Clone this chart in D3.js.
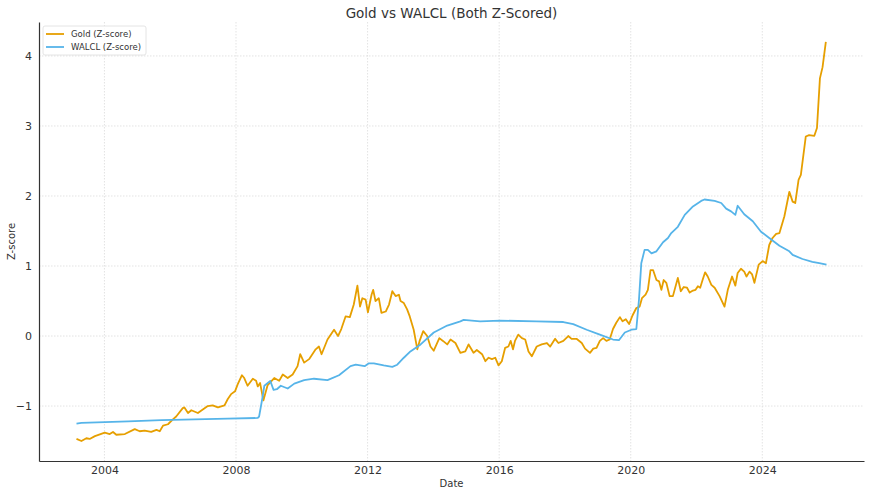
<!DOCTYPE html>
<html>
<head>
<meta charset="utf-8">
<script src="https://cdn.jsdelivr.net/npm/d3@7"></script>
<style>
  body { margin: 0; background: #fff; }
  svg { font-family: "DejaVu Sans", sans-serif; }
</style>
</head>
<body>
<svg id="canvas"></svg>
<script>
// decimal years (monthly-ish samples)
const goldYears = [2003.15, 2003.30, 2003.45, 2003.55, 2003.71, 2004.01, 2004.16, 2004.26, 2004.36, 2004.62,
  2004.92, 2005.07, 2005.22, 2005.42, 2005.58, 2005.68, 2005.78, 2005.93, 2006.08, 2006.18,
  2006.38, 2006.43, 2006.54, 2006.64, 2006.84, 2006.99, 2007.14, 2007.29, 2007.45, 2007.65,
  2007.75, 2007.85, 2007.97, 2008.05, 2008.18, 2008.25, 2008.35, 2008.51, 2008.61, 2008.66,
  2008.73, 2008.83, 2008.96, 2009.16, 2009.31, 2009.42, 2009.57, 2009.72, 2009.87, 2009.95,
  2010.07, 2010.22, 2010.42, 2010.52, 2010.60, 2010.78, 2010.98, 2011.10, 2011.20, 2011.33,
  2011.46, 2011.58, 2011.69, 2011.77, 2011.84, 2011.94, 2012.01, 2012.12, 2012.17, 2012.24,
  2012.34, 2012.42, 2012.55, 2012.65, 2012.75, 2012.85, 2012.95, 2013.00, 2013.10, 2013.20,
  2013.28, 2013.40, 2013.51, 2013.58, 2013.69, 2013.81, 2013.91, 2014.01, 2014.18, 2014.29,
  2014.42, 2014.52, 2014.67, 2014.82, 2014.97, 2015.07, 2015.22, 2015.32, 2015.48, 2015.58,
  2015.68, 2015.78, 2015.88, 2015.98, 2016.08, 2016.18, 2016.28, 2016.35, 2016.42, 2016.48,
  2016.58, 2016.69, 2016.79, 2016.89, 2016.99, 2017.14, 2017.29, 2017.45, 2017.55, 2017.70,
  2017.80, 2017.95, 2018.10, 2018.20, 2018.35, 2018.51, 2018.61, 2018.76, 2018.86, 2018.96,
  2019.06, 2019.16, 2019.26, 2019.36, 2019.46, 2019.56, 2019.67, 2019.75, 2019.85, 2019.95,
  2020.05, 2020.17, 2020.27, 2020.34, 2020.45, 2020.52, 2020.60, 2020.68, 2020.78, 2020.86,
  2020.93, 2021.00, 2021.08, 2021.18, 2021.28, 2021.43, 2021.52, 2021.61, 2021.71, 2021.79,
  2021.89, 2021.97, 2022.04, 2022.11, 2022.19, 2022.26, 2022.34, 2022.45, 2022.55, 2022.70,
  2022.85, 2022.95, 2023.08, 2023.18, 2023.25, 2023.35, 2023.45, 2023.52, 2023.61, 2023.69,
  2023.76, 2023.89, 2024.01, 2024.11, 2024.21, 2024.31, 2024.42, 2024.52, 2024.67, 2024.82,
  2024.92, 2025.00, 2025.10, 2025.17, 2025.32, 2025.42, 2025.58, 2025.66, 2025.75, 2025.83,
  2025.93];
const goldZ = [-1.47, -1.50, -1.46, -1.47, -1.43, -1.38, -1.40, -1.37, -1.41, -1.40,
  -1.33, -1.36, -1.35, -1.37, -1.34, -1.36, -1.28, -1.26, -1.19, -1.15,
  -1.03, -1.02, -1.10, -1.06, -1.10, -1.05, -1.00, -0.99, -1.02, -0.99,
  -0.90, -0.83, -0.79, -0.69, -0.56, -0.60, -0.71, -0.61, -0.64, -0.72,
  -0.67, -0.92, -0.70, -0.60, -0.64, -0.55, -0.60, -0.55, -0.43, -0.26,
  -0.38, -0.33, -0.19, -0.15, -0.26, -0.05, 0.09, 0.00, 0.10, 0.28,
  0.27, 0.45, 0.72, 0.42, 0.54, 0.52, 0.34, 0.59, 0.66, 0.50,
  0.54, 0.33, 0.35, 0.45, 0.64, 0.57, 0.59, 0.50, 0.47, 0.38,
  0.28, 0.09, -0.19, -0.07, 0.07, 0.00, -0.15, -0.21, -0.03, -0.07,
  -0.12, -0.05, -0.10, -0.24, -0.22, -0.12, -0.24, -0.20, -0.26, -0.36,
  -0.31, -0.33, -0.31, -0.42, -0.36, -0.17, -0.15, -0.07, -0.19, -0.07,
  0.02, -0.03, -0.05, -0.22, -0.29, -0.15, -0.12, -0.10, -0.15, -0.04,
  -0.10, -0.07, 0.00, -0.04, -0.04, -0.10, -0.18, -0.24, -0.18, -0.17,
  -0.07, -0.03, -0.07, -0.05, 0.10, 0.19, 0.27, 0.21, 0.24, 0.17,
  0.29, 0.40, 0.42, 0.54, 0.59, 0.66, 0.94, 0.94, 0.80, 0.78,
  0.66, 0.80, 0.76, 0.57, 0.57, 0.83, 0.64, 0.70, 0.69, 0.62,
  0.65, 0.66, 0.71, 0.69, 0.81, 0.91, 0.85, 0.73, 0.69, 0.57,
  0.42, 0.66, 0.85, 0.72, 0.90, 0.96, 0.92, 0.85, 0.92, 0.88,
  0.76, 1.02, 1.07, 1.04, 1.30, 1.40, 1.46, 1.47, 1.71, 2.06,
  1.92, 1.90, 2.23, 2.30, 2.85, 2.87, 2.86, 2.97, 3.68, 3.84,
  4.20];

const walclYears = [2003.15, 2003.30, 2004.01, 2004.72, 2005.73, 2006.74, 2007.75, 2008.66, 2008.70, 2008.81,
  2008.86, 2009.04, 2009.14, 2009.24, 2009.36, 2009.57, 2009.77, 2010.07, 2010.37, 2010.78,
  2011.13, 2011.48, 2011.64, 2011.91, 2012.04, 2012.19, 2012.49, 2012.75, 2012.90, 2013.10,
  2013.30, 2013.61, 2014.01, 2014.42, 2014.82, 2014.92, 2015.42, 2016.03, 2017.14, 2017.95,
  2018.25, 2018.66, 2019.06, 2019.46, 2019.64, 2019.82, 2020.02, 2020.17, 2020.25, 2020.32,
  2020.42, 2020.52, 2020.63, 2020.78, 2020.98, 2021.13, 2021.23, 2021.43, 2021.64, 2021.89,
  2022.14, 2022.24, 2022.55, 2022.75, 2022.90, 2023.05, 2023.18, 2023.25, 2023.35, 2023.45,
  2023.71, 2023.96, 2024.21, 2024.52, 2024.82, 2024.92, 2025.22, 2025.52, 2025.73, 2025.95];
const walclZ = [-1.25, -1.24, -1.23, -1.22, -1.20, -1.19, -1.18, -1.17, -1.15, -0.86,
  -0.71, -0.64, -0.77, -0.76, -0.71, -0.75, -0.68, -0.63, -0.61, -0.63,
  -0.56, -0.43, -0.41, -0.43, -0.39, -0.39, -0.42, -0.44, -0.41, -0.31,
  -0.22, -0.12, 0.05, 0.15, 0.21, 0.23, 0.21, 0.22, 0.21, 0.20,
  0.17, 0.09, 0.02, -0.05, -0.06, 0.05, 0.09, 0.10, 0.52, 1.04,
  1.23, 1.23, 1.18, 1.21, 1.34, 1.40, 1.47, 1.56, 1.73, 1.85,
  1.93, 1.95, 1.93, 1.90, 1.82, 1.78, 1.73, 1.86, 1.80, 1.74,
  1.64, 1.49, 1.40, 1.29, 1.21, 1.16, 1.10, 1.06, 1.04, 1.02];

const yTicks = [-1, 0, 1, 2, 3, 4];
const xTickYears = [2004, 2008, 2012, 2016, 2020, 2024];

const width = 870;
const height = 495;
const margin = { top: 22, right: 6, bottom: 34, left: 39 };

// decimal year -> Date
let toDate = (yr) => {
  let y = Math.floor(yr);
  let start = new Date(y, 0, 1);
  let end = new Date(y + 1, 0, 1);
  return new Date(start.getTime() + (yr - y) * (end - start));
};

let gold = goldYears.map((yr, i) => ({ date: toDate(yr), value: goldZ[i] }));
let walcl = walclYears.map((yr, i) => ({ date: toDate(yr), value: walclZ[i] }));

let canvas = d3.select("#canvas").attr("width", width).attr("height", height);

// matplotlib-like 5% padding on both axes
let allDates = gold.concat(walcl).map((d) => d.date);
let xExt = d3.extent(allDates);
let xPad = (xExt[1] - xExt[0]) * 0.05;
let xScale = d3
  .scaleTime()
  .domain([new Date(+xExt[0] - xPad), new Date(+xExt[1] + xPad)])
  .range([margin.left, width - margin.right]);

let allVals = goldZ.concat(walclZ);
let yExt = d3.extent(allVals);
let yPad = (yExt[1] - yExt[0]) * 0.05;
let yScale = d3
  .scaleLinear()
  .domain([yExt[0] - yPad, yExt[1] + yPad])
  .range([height - margin.bottom, margin.top]);

let xTicks = xTickYears.map((y) => new Date(y, 0, 1));

// grid
let grid = canvas.append("g").attr("class", "grid");
grid
  .selectAll("line.v")
  .data(xTicks)
  .enter()
  .append("line")
  .attr("x1", (d) => xScale(d))
  .attr("x2", (d) => xScale(d))
  .attr("y1", margin.top)
  .attr("y2", height - margin.bottom)
  .attr("stroke", "#dcdcdc")
  .attr("stroke-width", 0.8)
  .attr("stroke-dasharray", "1.5,1.5");
grid
  .selectAll("line.h")
  .data(yTicks)
  .enter()
  .append("line")
  .attr("x1", margin.left)
  .attr("x2", width - margin.right)
  .attr("y1", (d) => yScale(d))
  .attr("y2", (d) => yScale(d))
  .attr("stroke", "#dcdcdc")
  .attr("stroke-width", 0.8)
  .attr("stroke-dasharray", "1.5,1.5");

// lines
let line = d3
  .line()
  .x((d) => xScale(d.date))
  .y((d) => yScale(d.value));

canvas
  .append("path")
  .datum(gold)
  .attr("fill", "none")
  .attr("stroke", "#E69F00")
  .attr("stroke-width", 1.8)
  .attr("stroke-linejoin", "round")
  .attr("d", line);

canvas
  .append("path")
  .datum(walcl)
  .attr("fill", "none")
  .attr("stroke", "#56B4E9")
  .attr("stroke-width", 1.8)
  .attr("stroke-linejoin", "round")
  .attr("d", line);

// axes
let xAxis = d3
  .axisBottom(xScale)
  .tickValues(xTicks)
  .tickFormat(d3.timeFormat("%Y"))
  .tickSize(0)
  .tickPadding(5);
let yAxis = d3
  .axisLeft(yScale)
  .tickValues(yTicks)
  .tickFormat((d) => (d < 0 ? "\u2212" + Math.abs(d) : d))
  .tickSize(0)
  .tickPadding(7);

let gx = canvas
  .append("g")
  .attr("transform", "translate(0," + (height - margin.bottom) + ")")
  .call(xAxis);
let gy = canvas
  .append("g")
  .attr("transform", "translate(" + margin.left + ",0)")
  .call(yAxis);

[gx, gy].forEach((g) => {
  g.select(".domain").attr("stroke", "#333").attr("stroke-width", 1.2);
  g.selectAll("text")
    .attr("fill", "#333")
    .style("font-size", "11px")
    .style("font-family", "DejaVu Sans, sans-serif");
});

// title and axis labels
canvas
  .append("text")
  .attr("x", (margin.left + width - margin.right) / 2)
  .attr("y", 18)
  .attr("text-anchor", "middle")
  .attr("fill", "#333")
  .style("font-size", "13.5px")
  .text("Gold vs WALCL (Both Z-Scored)");

canvas
  .append("text")
  .attr("x", (margin.left + width - margin.right) / 2)
  .attr("y", 487)
  .attr("text-anchor", "middle")
  .attr("fill", "#333")
  .style("font-size", "10px")
  .text("Date");

canvas
  .append("text")
  .attr("transform", "translate(15," + (margin.top + height - margin.bottom) / 2 + ") rotate(-90)")
  .attr("text-anchor", "middle")
  .attr("fill", "#333")
  .style("font-size", "10px")
  .text("Z-score");

// legend
let legendItems = [
  { name: "Gold (Z-score)", color: "#E69F00" },
  { name: "WALCL (Z-score)", color: "#56B4E9" },
];
let legend = canvas.append("g").attr("transform", "translate(43,26)");
legend
  .append("rect")
  .attr("width", 103)
  .attr("height", 29)
  .attr("rx", 2)
  .attr("fill", "#fff")
  .attr("fill-opacity", 0.8)
  .attr("stroke", "#ddd")
  .attr("stroke-width", 0.8);
let entry = legend
  .selectAll("g")
  .data(legendItems)
  .enter()
  .append("g")
  .attr("transform", (d, i) => "translate(0," + (8 + i * 13) + ")");
entry
  .append("line")
  .attr("x1", 3)
  .attr("x2", 21)
  .attr("stroke", (d) => d.color)
  .attr("stroke-width", 1.8);
entry
  .append("text")
  .attr("x", 28)
  .attr("y", 3)
  .attr("fill", "#333")
  .style("font-size", "8.5px")
  .text((d) => d.name);
</script>
</body>
</html>
